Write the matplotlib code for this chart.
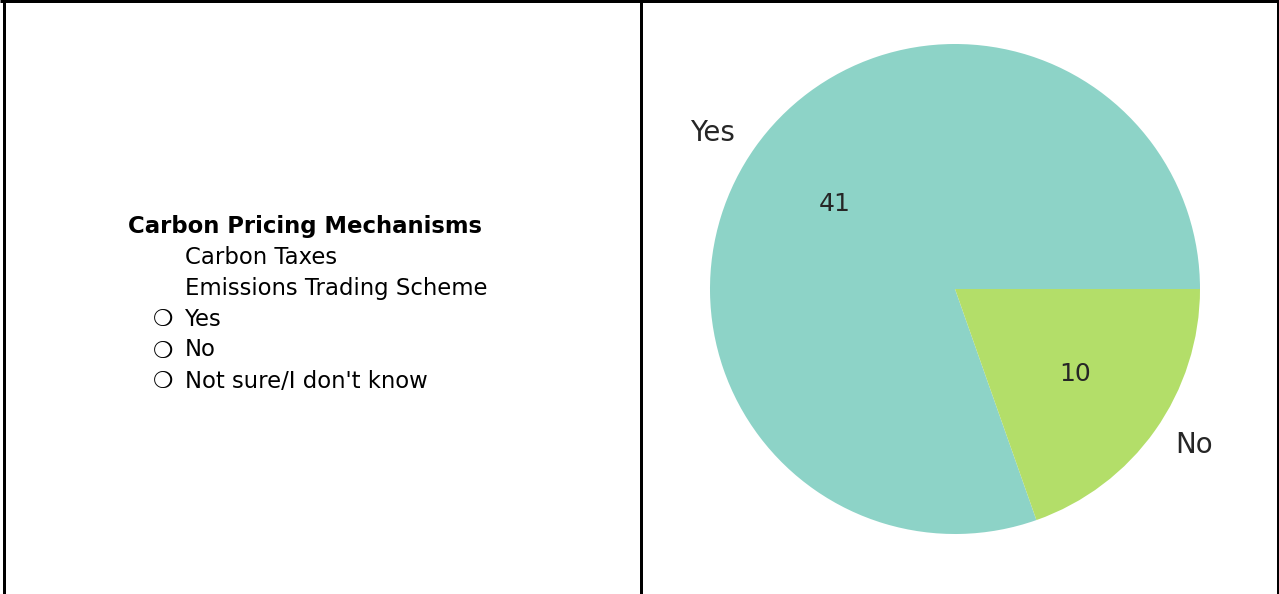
import matplotlib.pyplot as plt

# data
labels = ['Yes', 'No']
counts = [41, 10]
colors = ['#8dd3c7', '#b3de69']

title = 'Carbon Pricing Mechanisms'
sub_items = ['Carbon Taxes', 'Emissions Trading Scheme']
options = ['Yes', 'No', "Not sure/I don't know"]

W, H = 1279, 594
fig = plt.figure(figsize=(W / 100, H / 100), dpi=100)

# background axes in pixel coordinates for the table borders and text
bg = fig.add_axes([0, 0, 1, 1])
bg.set_xlim(0, W)
bg.set_ylim(H, 0)
bg.axis('off')

lw = 3 * 72 / 100
bg.plot([0, W], [1.2, 1.2], color='black', lw=lw, solid_capstyle='butt')
bg.plot([3.5, 3.5], [0, H], color='black', lw=lw, solid_capstyle='butt')
bg.plot([641, 641], [0, H], color='black', lw=lw, solid_capstyle='butt')
bg.plot([1278, 1278], [0, H], color='black', lw=2 * 72 / 100, solid_capstyle='butt')

fs = 16.4
bg.text(128, 226, title, fontsize=fs, fontweight='bold', va='center', ha='left')
y = 257
for s in sub_items:
    bg.text(185, y, s, fontsize=fs, va='center', ha='left')
    y += 31
for s in options:
    bg.text(153, y + 1, '\u274d', fontsize=fs, fontweight='bold', va='center', ha='left')
    bg.text(185, y, s, fontsize=fs, va='center', ha='left')
    y += 31

# pie chart, radius 245 px centred at (955, 289)
r = 245
half = 1.3 * r
ax = fig.add_axes([(955 - half) / W, 1 - (289 + half) / H, 2 * half / W, 2 * half / H])
wedges, texts, autotexts = ax.pie(
    counts, labels=labels, colors=colors,
    autopct=lambda p: f'{round(p * sum(counts) / 100):d}',
    textprops={'fontsize': 18, 'color': '#262626'})
for t in texts:
    t.set_fontsize(20)
ax.set_xlim(-1.3, 1.3)
ax.set_ylim(-1.3, 1.3)
ax.set_aspect('equal')
ax.axis('off')

fig.savefig('out.png', dpi=100)
